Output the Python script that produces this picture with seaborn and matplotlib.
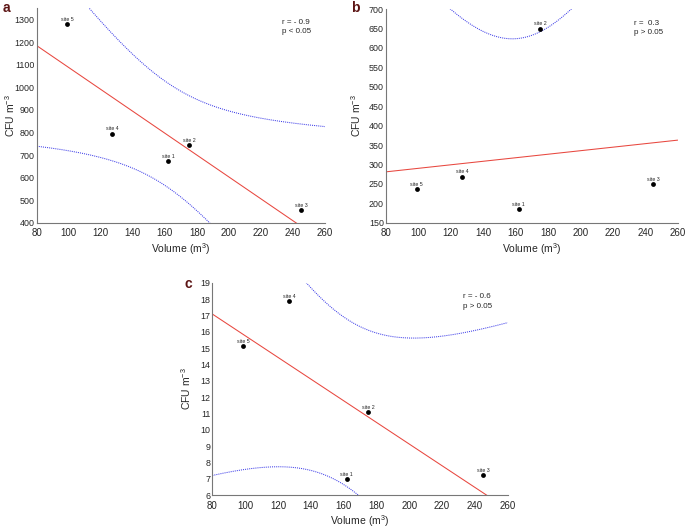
import numpy as np
import pandas as pd
import matplotlib
matplotlib.use('Agg')
import matplotlib.pyplot as plt
import seaborn as sns
from matplotlib.ticker import AutoMinorLocator, MultipleLocator

sites = ['site 1', 'site 2', 'site 3', 'site 4', 'site 5']
volume = [162, 175, 245, 127, 99]
cfu_a = [673, 743, 455, 795, 1278]
cfu_b = [186, 650, 250, 269, 236]
cfu_c = [7.0, 11.1, 7.25, 17.9, 15.15]
stats_a = 'r = - 0.9\np < 0.05'
stats_b = 'r =  0.3\np > 0.05'
stats_c = 'r = - 0.6\np > 0.05'

T975 = 3.182446  # t(0.975, df=3)

sns.set_style('white')
plt.rcParams['font.family'] = ['Liberation Sans', 'DejaVu Sans']
plt.rcParams['mathtext.default'] = 'regular'

fig = plt.figure(figsize=(6.85, 5.28), dpi=100)


def panel(rect, y, ylim, ystep, ylab_minor, stats, letter, letter_xy, ylab_x):
    ax = fig.add_axes(rect)
    df = pd.DataFrame({'volume': volume, 'cfu': y, 'site': sites})
    ax.set_xlim(80, 260)
    ax.set_ylim(*ylim)
    sns.regplot(x='volume', y='cfu', data=df, scatter=False, ci=None,
                truncate=False, color='#e8473f', line_kws={'lw': 0.75}, ax=ax)

    # 95% confidence band of the fitted mean
    x = np.asarray(volume, float)
    yy = np.asarray(y, float)
    b, a = np.polyfit(x, yy, 1)
    res = yy - (a + b * x)
    s = np.sqrt(np.sum(res ** 2) / (len(x) - 2))
    xs = np.linspace(80, 260, 300)
    se = s * np.sqrt(1 / len(x) + (xs - x.mean()) ** 2 / np.sum((x - x.mean()) ** 2))
    fit = a + b * xs
    ax.plot(xs, fit + T975 * se, ls=(0, (1, 1)), color='#4040e8', lw=0.75)
    ax.plot(xs, fit - T975 * se, ls=(0, (1, 1)), color='#4040e8', lw=0.75)

    sns.scatterplot(x='volume', y='cfu', data=df, color='black', s=12,
                    edgecolor='black', linewidth=0, ax=ax, zorder=5)
    for xi, yi, name in zip(volume, y, sites):
        ax.annotate(name, (xi, yi), xytext=(0, 1.5), textcoords='offset points',
                    ha='center', va='bottom', fontsize=3.8)

    ax.text(0.85, 0.95, stats, transform=ax.transAxes, fontsize=5.8,
            va='top', ha='left', linespacing=1.5)

    ax.xaxis.set_major_locator(MultipleLocator(20))
    ax.yaxis.set_major_locator(MultipleLocator(ystep))
    ax.xaxis.set_minor_locator(AutoMinorLocator(4))
    ax.yaxis.set_minor_locator(AutoMinorLocator(ylab_minor))
    ax.tick_params(which='both', direction='in', color='#777777')
    ax.tick_params(axis='x', pad=4, labelsize=7)
    ax.tick_params(axis='y', pad=1.5, labelsize=6.4)
    ax.tick_params(which='major', length=2.5, width=0.6)
    ax.tick_params(which='minor', length=1.5, width=0.5)
    for side in ['top', 'right']:
        ax.spines[side].set_visible(False)
    for side in ['left', 'bottom']:
        ax.spines[side].set_color('#777777')
        ax.spines[side].set_linewidth(0.8)
    ax.set_xlabel('Volume (m$^3$)', fontsize=7.5, labelpad=2)
    ax.set_ylabel('CFU m$^{-3}$', fontsize=7.5)
    ax.yaxis.set_label_coords(ylab_x, 0.5)
    fig.text(letter_xy[0], letter_xy[1], letter, fontsize=10, fontweight='bold',
             color='#5c1414', ha='left', va='center')
    return ax


panel([0.0536, 0.578, 0.4209, 0.4066], cfu_a, (400, 1350), 100, 5, stats_a, 'a',
      (0.004, 0.984), -0.07)
panel([0.5635, 0.578, 0.4258, 0.4047], cfu_b, (150, 700), 50, 5, stats_b, 'b',
      (0.512, 0.984), -0.079)
panel([0.3099, 0.0619, 0.4312, 0.4027], cfu_c, (6, 19), 1, 2, stats_c, 'c',
      (0.270, 0.462), -0.065)

fig.savefig('out.png', dpi=100)
